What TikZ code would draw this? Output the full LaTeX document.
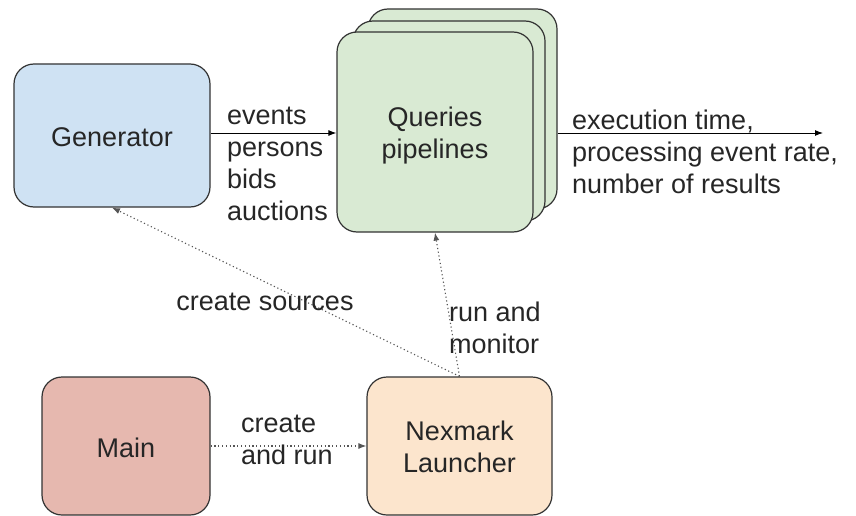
\documentclass[tikz,border=0pt]{standalone}
\usepackage{fontspec}
\setmainfont{Liberation Sans}
\usetikzlibrary{arrows.meta}
\definecolor{genblue}{HTML}{CFE2F3}
\definecolor{qgreen}{HTML}{D9EAD3}
\definecolor{mainred}{HTML}{E6B8AF}
\definecolor{nexorange}{HTML}{FCE5CD}
\definecolor{boxline}{HTML}{333333}
\definecolor{dotline}{HTML}{555555}
\begin{document}
\begin{tikzpicture}[x=1pt,y=-1pt,
  box/.style={draw=boxline, line width=1.2pt, rounded corners=20pt, inner sep=0pt},
  boxtext/.style={inner sep=0pt, align=center, font=\fontsize{27}{32}\selectfont, text=black!85},
  lbl/.style={inner sep=0pt, align=left, font=\fontsize{27}{32}\selectfont, text=black!85},
  solidarrow/.style={draw=black, line width=1pt, -{Latex[length=8pt,width=6pt]}},
  dotarrow/.style={draw=dotline, line width=1.1pt, dash pattern=on 1.2pt off 2.6pt, -{Latex[length=8pt,width=6pt]}}
]
\useasboundingbox (0,0) rectangle (856,516);
% boxes
\node[box, fill=genblue, minimum width=196pt, minimum height=143pt] (gen) at (112,135.5) {};
\node[box, fill=qgreen, minimum width=189pt, minimum height=200pt] (q3) at (462.5,109) {};
\node[box, fill=qgreen, minimum width=192pt, minimum height=200pt] (q2) at (449,121) {};
\node[box, fill=qgreen, minimum width=196pt, minimum height=200pt] (q1) at (435,132) {};
\node[box, fill=mainred, minimum width=168pt, minimum height=138pt] (main) at (126,446) {};
\node[box, fill=nexorange, minimum width=185pt, minimum height=138pt] (nex) at (459.5,446) {};
% box texts
\node[boxtext] (gent) at ([yshift=-2pt]gen.center) {Generator};
\node[boxtext] (q1t) at ([yshift=-4pt]q1.center) {Queries\\pipelines};
\node[boxtext] (maint) at ([yshift=-2pt]main.center) {Main};
\node[boxtext] (next) at ([yshift=-1pt]nex.center) {Nexmark\\Launcher};
\coordinate (out) at (823,133);
% connectors
\draw[solidarrow] (gen.east |- 0,133) -- (q1.west |- 0,133);
\draw[solidarrow] (q3.east |- out) -- (out);
\draw[dotarrow] (main.east) -- (nex.west |- main.east);
\draw[dotarrow] (nex.north) -- (gen.south);
\draw[dotarrow] (nex.north) -- (q1.south);
% labels
\node[lbl, anchor=west] (lev) at (227,164) {events\\persons\\bids\\auctions};
\node[lbl, anchor=west] (lout) at (572,152) {execution time,\\processing event rate,\\number of results};
\node[lbl] (lcs) at (265,302) {create sources};
\node[lbl, anchor=west] (lrm) at (449,328) {run and\\monitor};
\node[lbl, anchor=west] (lcr) at (241,440) {create\\and run};
\end{tikzpicture}
\end{document}
